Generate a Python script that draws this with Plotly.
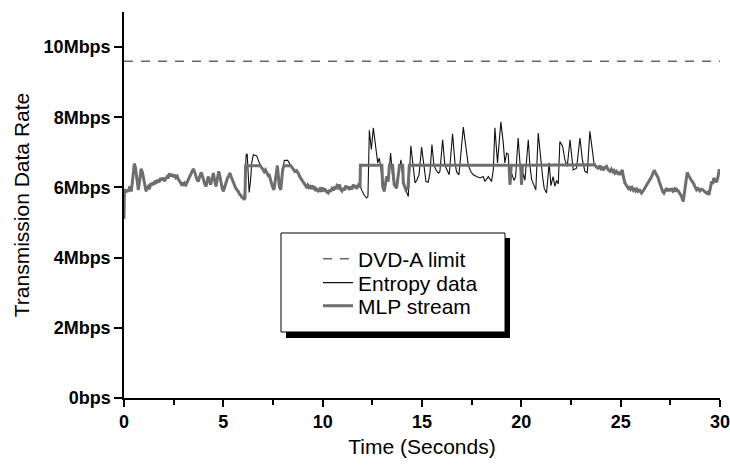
import plotly.graph_objects as go

# ---------------- data (Mbps vs seconds) ----------------
# segments where the MLP stream follows the entropy data exactly
shared1_t = [0.0, 0.02, 0.08, 0.13, 0.2, 0.3, 0.37, 0.45, 0.52, 0.58, 0.64, 0.72, 0.79, 0.86, 0.92, 0.97,
             1.04, 1.11, 1.17, 1.22, 1.28, 1.34, 1.39, 1.45, 1.52, 1.58, 1.64, 1.7, 1.77, 1.84, 1.9, 1.97,
             2.03, 2.1, 2.16, 2.22, 2.28, 2.34, 2.41, 2.48, 2.55, 2.61, 2.68, 2.74, 2.82, 2.88, 2.94, 2.99,
             3.06, 3.12, 3.2, 3.26, 3.32, 3.4, 3.49, 3.55, 3.62, 3.68, 3.74, 3.81, 3.88, 3.94, 3.99, 4.06,
             4.13, 4.18, 4.24, 4.3, 4.36, 4.43, 4.5, 4.56, 4.63, 4.7, 4.77, 4.83, 4.88, 4.94, 5.0, 5.07,
             5.13, 5.2, 5.27, 5.33, 5.4, 5.45, 5.5, 5.57, 5.63, 5.69, 5.75, 5.82, 5.88, 5.92, 6.0, 6.04]
shared1_v = [5.1, 5.95, 5.85, 5.93, 5.88, 6.03, 5.89, 6.3, 6.68, 6.55, 6.31, 5.93, 6.2, 6.53, 6.45, 6.31,
             6.05, 5.89, 6.0, 6.03, 5.95, 6.12, 6.05, 6.15, 6.08, 6.2, 6.12, 6.22, 6.15, 6.27, 6.2, 6.28,
             6.18, 6.25, 6.3, 6.26, 6.4, 6.32, 6.38, 6.3, 6.36, 6.28, 6.32, 6.22, 6.17, 6.1, 6.14, 6.05,
             6.12, 6.08, 6.18, 6.22, 6.31, 6.42, 6.53, 6.45, 6.31, 6.22, 6.17, 6.3, 6.43, 6.35, 6.22, 6.1,
             6.03, 6.15, 6.31, 6.2, 6.08, 6.25, 6.41, 6.2, 6.03, 6.25, 6.46, 6.3, 6.13, 5.98, 5.89, 6.02,
             6.17, 6.25, 6.33, 6.41, 6.3, 6.22, 6.17, 6.05, 5.97, 5.93, 5.89, 5.8, 5.78, 5.73, 5.7, 5.65]

shared2_t = [7.0, 7.06, 7.12, 7.18, 7.25, 7.3, 7.35, 7.41, 7.47, 7.55, 7.65, 7.72, 7.82, 7.89, 7.99]
shared2_v = [6.51, 6.45, 6.5, 6.41, 6.35, 6.38, 6.27, 6.15, 6.03, 5.93, 6.41, 6.62, 6.03, 5.93, 6.51]

shared3_t = [8.44, 8.52, 8.6, 8.68, 8.77, 8.85, 8.94, 9.02, 9.11, 9.18, 9.24, 9.3, 9.36, 9.43, 9.5, 9.56,
             9.61, 9.66, 9.7, 9.78, 9.86, 9.93, 10.0, 10.06, 10.12, 10.2, 10.28, 10.34, 10.4, 10.47, 10.54,
             10.6, 10.65, 10.72, 10.79, 10.85, 10.9, 10.97, 11.04, 11.1, 11.15, 11.22, 11.29, 11.35, 11.4,
             11.47, 11.54, 11.6, 11.66, 11.71, 11.78, 11.84]
shared3_v = [6.58, 6.5, 6.46, 6.48, 6.41, 6.3, 6.22, 6.15, 6.08, 6.02, 6.07, 6.0, 6.03, 5.96, 6.05, 5.97,
             5.98, 5.9, 5.95, 5.9, 5.96, 5.88, 6.0, 5.9, 5.96, 5.87, 5.84, 5.93, 5.88, 5.97, 5.92,
             6.02, 5.95, 6.05, 6.0, 6.08, 5.95, 5.9, 5.98, 5.92, 6.05, 5.97, 6.03, 5.93, 6.02,
             5.95, 6.08, 6.0, 6.06, 5.96, 6.04, 6.12]

shared4_t = [23.7, 23.78, 23.87, 23.94, 24.0, 24.06, 24.12, 24.2, 24.29, 24.37, 24.46, 24.53, 24.6, 24.66,
             24.71, 24.78, 24.85, 24.9, 24.96, 25.02, 25.08, 25.14, 25.21, 25.3, 25.38, 25.44, 25.5, 25.57,
             25.63, 25.69, 25.75, 25.82, 25.88, 25.96, 26.05, 26.13, 26.22, 26.3, 26.39, 26.47, 26.56,
             26.62, 26.69, 26.75, 26.81, 26.88, 26.94, 27.0, 27.06, 27.12, 27.18, 27.25, 27.31, 27.38,
             27.45, 27.5, 27.56, 27.63, 27.7, 27.75, 27.81, 27.9, 27.98, 28.06, 28.15, 28.22, 28.28,
             28.35, 28.41, 28.48, 28.56, 28.65, 28.72, 28.82, 28.9, 28.99, 29.07, 29.15, 29.23, 29.32,
             29.38, 29.44, 29.5, 29.58, 29.64, 29.69, 29.76, 29.83, 29.9, 29.96, 30.0]
shared4_v = [6.65, 6.58, 6.55, 6.62, 6.55, 6.6, 6.49, 6.56, 6.6, 6.5, 6.46, 6.52, 6.45, 6.48,
             6.41, 6.46, 6.4, 6.42, 6.36, 6.42, 6.5, 6.3, 6.13, 6.05, 5.98, 6.03, 5.95, 6.0,
             5.93, 5.98, 5.9, 5.95, 5.89, 5.92, 5.84, 5.9, 5.98, 6.05, 6.13, 6.2, 6.31,
             6.4, 6.49, 6.42, 6.36, 6.28, 6.17, 6.05, 5.93, 5.88, 5.84, 5.92, 5.98, 5.9,
             5.96, 5.9, 5.97, 5.9, 5.95, 5.88, 5.95, 5.9, 5.84, 5.75, 5.6, 5.9, 6.22,
             6.43, 6.35, 6.27, 6.2, 6.13, 6.05, 5.93, 5.97, 5.9, 5.95, 5.93, 5.88, 5.84,
             5.86, 5.79, 5.95, 6.17, 6.1, 6.27, 6.2, 6.15, 6.3, 6.51, 6.45]

# entropy data only (where it departs from the MLP stream)
entropy_a_t = [6.09, 6.15, 6.2, 6.25, 6.3, 6.37, 6.43, 6.51, 6.68, 6.81, 6.9]
entropy_a_v = [6.2, 6.93, 6.96, 6.5, 5.86, 6.2, 6.7, 6.93, 6.9, 6.70, 6.6]
entropy_b_t = [8.07, 8.2, 8.27, 8.36]
entropy_b_v = [6.77, 6.78, 6.75, 6.65]
entropy_c_t = [11.96, 12.08, 12.21, 12.28, 12.35, 12.45, 12.55, 12.68, 12.77, 12.85, 12.93, 13.02, 13.1,
               13.22, 13.3, 13.42, 13.52, 13.6, 13.72, 13.81, 13.94, 14.06, 14.19, 14.31, 14.44, 14.56,
               14.65, 14.73, 14.85, 14.98, 15.1, 15.2, 15.31, 15.4, 15.5, 15.6, 15.7, 15.82, 15.9, 16.04,
               16.15, 16.24, 16.37, 16.54, 16.66, 16.74, 16.86, 17.08, 17.21, 17.33, 17.45, 17.58, 17.75,
               17.92, 18.08, 18.17, 18.34, 18.5, 18.59, 18.67, 18.8, 18.97, 19.09, 19.17, 19.26, 19.34,
               19.43, 19.51, 19.63, 19.71, 19.84, 19.93, 20.01, 20.1, 20.18, 20.35, 20.43, 20.52, 20.63,
               20.73, 20.85, 20.97, 21.07, 21.15, 21.27, 21.4, 21.49, 21.6, 21.69, 21.77, 21.86, 21.94,
               22.08, 22.19, 22.31, 22.45, 22.53, 22.61, 22.78, 22.95, 23.07, 23.2, 23.32, 23.45, 23.59,
               23.65]
entropy_c_v = [5.93, 5.79, 5.70, 5.75, 7.63, 7.08, 7.70, 7.17, 6.70, 6.84, 6.55, 6.03, 5.89,
               6.31, 6.17, 6.98, 6.31, 6.08, 5.98, 6.3, 6.79, 6.13, 5.93, 5.74, 7.19, 6.55,
               6.13, 6.2, 6.36, 7.15, 6.55, 6.17, 6.15, 6.41, 7.22, 6.63, 6.51, 6.41, 6.45, 7.36,
               6.63, 6.51, 6.36, 7.53, 6.70, 6.45, 6.36, 7.72, 7.08, 6.63, 6.46, 6.36, 6.31,
               6.27, 6.31, 6.17, 6.31, 6.17, 6.5, 7.70, 6.70, 7.87, 7.27, 6.70, 6.98, 6.95,
               6.08, 6.4, 6.2, 6.3, 7.41, 6.6, 6.08, 6.4, 6.2, 7.36, 6.63, 6.22, 6.08,
               5.93, 7.55, 6.79, 6.31, 5.98, 5.84, 6.70, 6.05, 6.31, 6.03, 6.2, 6.1, 7.31,
               7.17, 6.79, 6.6, 7.36, 6.89, 6.50, 6.55, 7.41, 6.8, 6.46, 6.42, 7.60, 7.0,
               6.70]

# MLP stream only (buffered, mostly flat at the peak rate)
mlp_a_t = [6.09, 6.12, 6.85]
mlp_a_v = [5.7, 6.62, 6.62]
mlp_b_t = [8.05, 8.4]
mlp_b_v = [6.62, 6.62]
mlp_c_t = [11.88, 11.9, 12.98, 13.02, 13.1, 13.22, 13.3, 13.36, 13.52, 13.6, 13.72, 13.81, 13.87, 14.03,
           14.06, 14.19, 14.3, 14.36, 19.38, 19.43, 19.49, 19.97, 20.01, 20.06]
mlp_c_v = [6.0, 6.63, 6.63, 6.03, 5.89, 6.31, 6.17, 6.63, 6.63, 6.08, 5.98, 6.3, 6.63, 6.63,
           6.13, 5.93, 6.0, 6.63, 6.63, 6.08, 6.63, 6.63, 6.08, 6.63]

entropy_t = shared1_t + entropy_a_t + shared2_t + entropy_b_t + shared3_t + entropy_c_t + shared4_t
entropy_v = shared1_v + entropy_a_v + shared2_v + entropy_b_v + shared3_v + entropy_c_v + shared4_v
mlp_t = shared1_t + mlp_a_t + shared2_t + mlp_b_t + shared3_t + mlp_c_t + shared4_t
mlp_v = shared1_v + mlp_a_v + shared2_v + mlp_b_v + shared3_v + mlp_c_v + shared4_v

limit_t = [0, 30]
limit_v = [9.6, 9.6]

y_tickvals = [0, 2, 4, 6, 8, 10]
y_ticktext = ["0bps", "2Mbps", "4Mbps", "6Mbps", "8Mbps", "10Mbps"]
x_tickvals = [0, 5, 10, 15, 20, 25, 30]

# ---------------- layout geometry ----------------
W, H = 730, 466
ML, MR, MT, MB = 124, 10, 12, 68
PW, PH = W - ML - MR, H - MT - MB


def px(x):
    return (x - ML) / PW


def py(y):
    return (H - MB - y) / PH


FONT = "Liberation Sans, Arial, sans-serif"

fig = go.Figure()
fig.add_trace(go.Scatter(x=limit_t, y=limit_v, mode="lines", name="DVD-A limit",
                         line=dict(color="#666666", width=1.5, dash="9px,8px"), legend="legend"))
fig.add_trace(go.Scatter(x=entropy_t, y=entropy_v, mode="lines", name="Entropy data",
                         line=dict(color="#111111", width=1.1), legend="legend2"))
fig.add_trace(go.Scatter(x=mlp_t, y=mlp_v, mode="lines", name="MLP stream",
                         line=dict(color="#6e6e6e", width=3), legend="legend3"))

leg_common = dict(bgcolor="rgba(0,0,0,0)", borderwidth=0, xanchor="left", yanchor="middle",
                  font=dict(family=FONT, size=21, color="black"), x=px(318))

fig.update_layout(
    width=W, height=H,
    showlegend=True,
    margin=dict(l=ML, r=MR, t=MT, b=MB, pad=0),
    paper_bgcolor="white", plot_bgcolor="white",
    font=dict(family=FONT, color="black"),
    legend=dict(**leg_common, y=py(259)),
    legend2=dict(**leg_common, y=py(283)),
    legend3=dict(**leg_common, y=py(306)),
    xaxis=dict(range=[0, 30], tickvals=x_tickvals, ticks="outside", ticklen=7, tickwidth=1.5,
               tickcolor="black", showline=True, linecolor="black", linewidth=1.5,
               showgrid=False, zeroline=False, ticklabeloverflow="allow",
               tickfont=dict(family=FONT, size=18, color="black", weight="bold"),
               minor=dict(dtick=2.5, ticks="outside", ticklen=5, tickwidth=1.5, tickcolor="black"),
               title=dict(text="Time (Seconds)", font=dict(family=FONT, size=21, color="black"),
                          standoff=8),
               automargin=False),
    yaxis=dict(range=[0, 11], tickvals=y_tickvals, ticktext=y_ticktext, ticks="outside",
               ticklen=8, tickwidth=1.5, tickcolor="black", showline=True, linecolor="black",
               linewidth=1.5, showgrid=False, zeroline=False,
               tickfont=dict(family=FONT, size=18, color="black", weight="bold"),
               title=dict(text="Transmission Data Rate",
                          font=dict(family=FONT, size=21, color="black"), standoff=8),
               automargin=False),
    shapes=[
        dict(type="rect", xref="paper", yref="paper", x0=px(286), x1=px(510), y0=py(338), y1=py(238),
             fillcolor="black", line=dict(width=0), layer="above"),
        dict(type="rect", xref="paper", yref="paper", x0=px(281), x1=px(505), y0=py(332), y1=py(233),
             fillcolor="white", line=dict(color="black", width=1), layer="above"),
    ],
)

fig.write_html("out.html")
